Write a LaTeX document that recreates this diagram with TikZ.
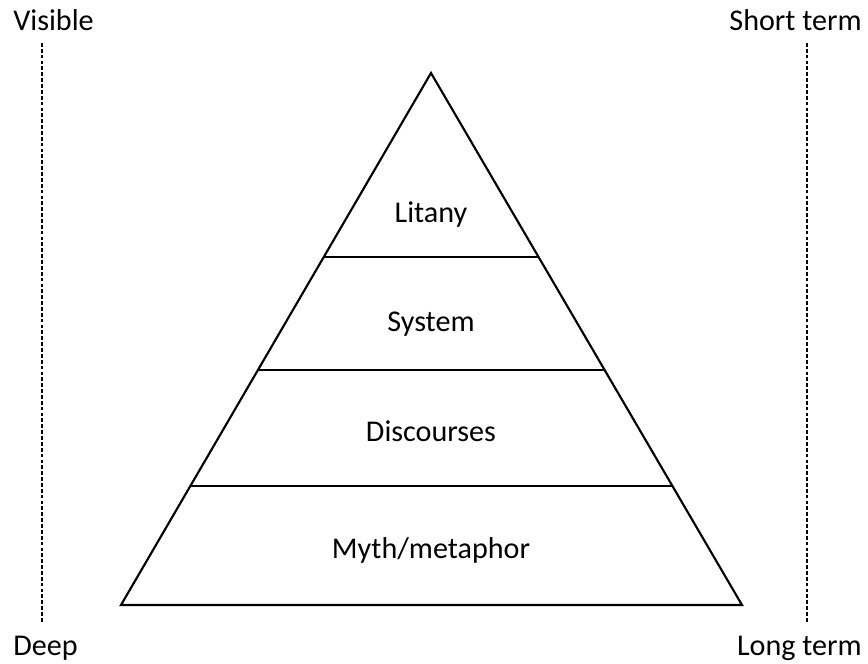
\documentclass[tikz,border=0pt]{standalone}
\usepackage{fontspec}
\setmainfont{Carlito}
\usetikzlibrary{calc}

\tikzset{
  lbl/.style={font=\fontsize{22.6}{27}\selectfont,inner sep=0pt},
  guide/.style={black,line width=0.9pt,dash pattern=on 2.8pt off 1.6pt},
}

\begin{document}
\begin{tikzpicture}[x=0.75pt,y=-0.75pt]
\useasboundingbox (0,0) rectangle (868,664);
% pyramid
\coordinate (top) at (431,73);
\coordinate (bl) at (121,605);
\coordinate (br) at (742,605);
\draw[line width=1.6pt,line join=miter] (top) -- (bl) -- (br) -- cycle;
\draw[line width=1.2pt] ($(top)!0.3459!(bl)$) -- ($(top)!0.3459!(br)$);
\draw[line width=1.2pt] ($(top)!0.5583!(bl)$) -- ($(top)!0.5583!(br)$);
\draw[line width=1.2pt] ($(top)!0.7763!(bl)$) -- ($(top)!0.7763!(br)$);
\node[lbl,anchor=base] (litany) at (431,222) {Litany};
\node[lbl,anchor=base] (system) at (431,331) {System};
\node[lbl,anchor=base] (disc) at (431,441) {Discourses};
\node[lbl,anchor=base] (myth) at (431,558) {Myth/metaphor};

% side scales
\coordinate (lt) at (42,43);
\coordinate (lb) at (42,622);
\coordinate (rt) at (807,43);
\coordinate (rb) at (807,622);
\draw[guide] (lt) -- (lb);
\draw[guide] (rt) -- (rb);
\node[lbl,anchor=base west] (vis) at (13,30) {Visible};
\node[lbl,anchor=base east] (short) at (862,30) {Short term};
\node[lbl,anchor=base west] (deep) at (13,655) {Deep};
\node[lbl,anchor=base east] (long) at (862,655) {Long term};
\end{tikzpicture}
\end{document}
